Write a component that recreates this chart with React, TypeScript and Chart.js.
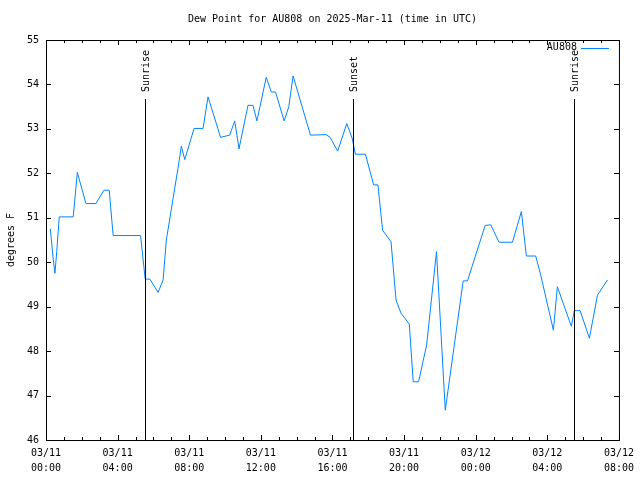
import React, { useEffect, useRef } from 'react';
import { Chart, registerables } from 'chart.js';

Chart.register(...registerables);

const FONT = '"DejaVu Sans Mono", "Liberation Mono", monospace';

const chartTitle = 'Dew Point for AU808 on 2025-Mar-11 (time in UTC)';
const yAxisTitle = 'degrees F';
const seriesName = 'AU808';
const lineColor = 'rgb(0,132,255)';

// hours since 03/11 00:00 UTC
const times = [
  0.24, 0.41, 0.5, 0.6, 0.74, 1.52, 1.75, 2.23, 2.79, 3.23, 3.53, 3.75, 5.28, 5.54, 5.8, 6.26,
  6.54, 6.72, 7.37, 7.56, 7.75, 8.27, 8.77, 9.05, 9.75, 10.26, 10.54, 10.78, 11.28, 11.56, 11.78,
  12.3, 12.58, 12.82, 13.3, 13.56, 13.8, 14.77, 15.64, 15.87, 16.29, 16.8, 17.1, 17.28, 17.84,
  18.3, 18.54, 18.8, 19.27, 19.55, 19.83, 20.29, 20.51, 20.81, 21.26, 21.81, 22.3, 23.3, 23.54,
  24.53, 24.84, 25.3, 26.05, 26.55, 26.83, 27.35, 27.63, 28.34, 28.56, 29.34, 29.51, 29.83,
  30.35, 30.8, 31.36,
];

const dewPoints = [
  50.75, 50.05, 49.75, 50.24, 51.02, 51.02, 52.02, 51.32, 51.32, 51.62, 51.62, 50.6, 50.6, 49.62,
  49.62, 49.32, 49.6, 50.5, 52.11, 52.61, 52.31, 53.01, 53.01, 53.72, 52.81, 52.86, 53.18, 52.55,
  53.53, 53.53, 53.18, 54.16, 53.83, 53.83, 53.18, 53.5, 54.19, 52.86, 52.87, 52.81, 52.5, 53.12,
  52.79, 52.43, 52.43, 51.74, 51.74, 50.72, 50.46, 49.15, 48.85, 48.61, 47.31, 47.31, 48.14,
  50.24, 46.67, 49.58, 49.58, 50.83, 50.84, 50.45, 50.45, 51.14, 50.14, 50.14, 49.71, 48.47,
  49.45, 48.56, 48.91, 48.91, 48.29, 49.26, 49.6,
];

const xTickLabels = [
  ['03/11', '00:00'],
  ['03/11', '04:00'],
  ['03/11', '08:00'],
  ['03/11', '12:00'],
  ['03/11', '16:00'],
  ['03/11', '20:00'],
  ['03/12', '00:00'],
  ['03/12', '04:00'],
  ['03/12', '08:00'],
];

const xMin = 0;
const xMax = 32;
const xStep = 4;
const xMinorStep = 1;
const yMin = 46;
const yMax = 55;
const yStep = 1;

const eventLabels = ['Sunrise', 'Sunset', 'Sunrise'];
const eventTimes = [5.52, 17.13, 29.51];

const decorPlugin = {
  id: 'decor',
  afterDraw(chart: any) {
    const { ctx, chartArea: a, scales } = chart;
    const xs = scales.x;
    const ys = scales.y;
    ctx.save();
    ctx.strokeStyle = '#000';
    ctx.lineWidth = 1;
    ctx.strokeRect(a.left + 0.5, a.top + 0.5, a.right - a.left, a.bottom - a.top);

    ctx.beginPath();
    for (let h = xMin; h <= xMax; h += xMinorStep) {
      const px = Math.round(xs.getPixelForValue(h)) + 0.5;
      const len = h % xStep === 0 ? 5 : 3;
      ctx.moveTo(px, a.bottom);
      ctx.lineTo(px, a.bottom - len);
      ctx.moveTo(px, a.top);
      ctx.lineTo(px, a.top + len);
    }
    for (const t of ys.ticks) {
      const py = Math.round(ys.getPixelForValue(t.value)) + 0.5;
      ctx.moveTo(a.left, py);
      ctx.lineTo(a.left + 5, py);
      ctx.moveTo(a.right, py);
      ctx.lineTo(a.right - 5, py);
    }
    ctx.stroke();

    ctx.font = `10px ${FONT}`;
    ctx.fillStyle = '#000';
    eventTimes.forEach((t, i) => {
      const px = Math.round(xs.getPixelForValue(t)) + 0.5;
      ctx.beginPath();
      ctx.moveTo(px, a.bottom);
      ctx.lineTo(px, a.top + 59);
      ctx.stroke();
      ctx.save();
      ctx.translate(px + 0.5, a.top + 52);
      ctx.rotate(-Math.PI / 2);
      ctx.textAlign = 'left';
      ctx.textBaseline = 'middle';
      ctx.fillText(eventLabels[i], 0, 0);
      ctx.restore();
    });

    // legend
    ctx.textAlign = 'right';
    ctx.textBaseline = 'middle';
    ctx.fillText(seriesName, a.right - 42, a.top + 7);
    ctx.strokeStyle = lineColor;
    ctx.beginPath();
    ctx.moveTo(a.right - 38, a.top + 8.5);
    ctx.lineTo(a.right - 10, a.top + 8.5);
    ctx.stroke();

    // title
    ctx.textAlign = 'center';
    ctx.fillText(chartTitle, (a.left + a.right) / 2, 19);

    // y title
    ctx.save();
    ctx.translate(11, (a.top + a.bottom) / 2);
    ctx.rotate(-Math.PI / 2);
    ctx.textAlign = 'center';
    ctx.textBaseline = 'middle';
    ctx.fillText(yAxisTitle, 0, 0);
    ctx.restore();

    ctx.restore();
  },
};

export default function App() {
  const ref = useRef<HTMLCanvasElement>(null);
  useEffect(() => {
    if (!ref.current) return;
    const chart = new Chart(ref.current, {
      type: 'line',
      data: {
        datasets: [
          {
            label: seriesName,
            data: times.map((t, i) => ({ x: t, y: dewPoints[i] })),
            borderColor: lineColor,
            borderWidth: 1,
            pointRadius: 0,
            fill: false,
            tension: 0,
          },
        ],
      },
      options: {
        responsive: false,
        animation: false,
        devicePixelRatio: 1,
        layout: { padding: { left: 0, right: 20, top: 40, bottom: 0 } },
        plugins: {
          legend: { display: false },
          title: { display: false },
          tooltip: { enabled: false },
        },
        scales: {
          x: {
            type: 'linear',
            min: xMin,
            max: xMax,
            grid: { display: false, drawTicks: false },
            border: { display: false },
            ticks: {
              stepSize: xStep,
              autoSkip: false,
              maxRotation: 0,
              padding: 6,
              color: '#000',
              font: { family: FONT, size: 10, lineHeight: 1.5 },
              callback: (_v: any, i: number) => xTickLabels[i],
            },
            afterFit: (s: any) => {
              s.height = 40;
            },
          },
          y: {
            type: 'linear',
            min: yMin,
            max: yMax,
            grid: { display: false, drawTicks: false },
            border: { display: false },
            ticks: {
              stepSize: yStep,
              padding: 7,
              color: '#000',
              font: { family: FONT, size: 10 },
            },
            afterFit: (s: any) => {
              s.width = 46;
            },
          },
        },
      },
      plugins: [decorPlugin],
    });
    return () => chart.destroy();
  }, []);
  return (
    <div style={{ position: 'absolute', left: 0, top: 0, width: 640, height: 480, background: '#fff' }}>
      <canvas ref={ref} width={640} height={480} />
    </div>
  );
}
